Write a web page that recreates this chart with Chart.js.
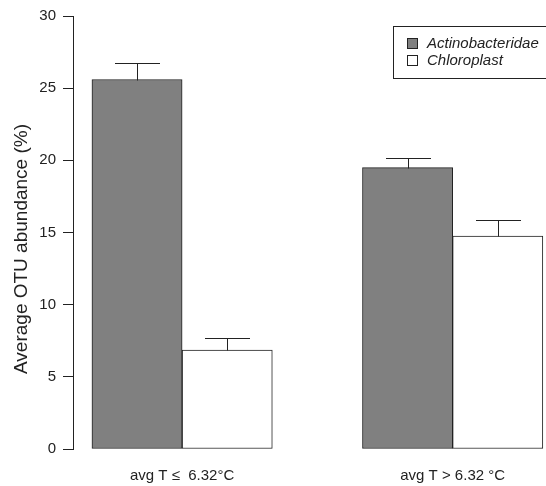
<!DOCTYPE html>
<html>
<head>
<meta charset="utf-8">
<script src="https://cdn.jsdelivr.net/npm/chart.js@4.4.1/dist/chart.umd.min.js"></script>
<style>
  html, body { margin: 0; padding: 0; background: #fff; overflow: hidden; }
  #wrap { width: 546px; height: 486px; position: relative; }
</style>
</head>
<body>
<div id="wrap"><canvas id="c" width="546" height="486"></canvas></div>
<script>
// Temperature groups
const categories = ['avg T \u2264  6.32\u00B0C', 'avg T > 6.32 \u00B0C'];
// Mean OTU abundance (%) per group, and standard error (upper whisker only)
const actinoMeans = [25.6, 19.5];
const actinoErrors = [1.13, 0.69];
const chloroMeans = [6.86, 14.76];
const chloroErrors = [0.81, 1.11];
// Y axis ticks
const yTicks = [0, 5, 10, 15, 20, 25, 30];
const yTitle = 'Average OTU abundance (%)';

const seriesNames = ['Actinobacteridae', 'Chloroplast'];
const seriesFills = ['#808080', '#ffffff'];
const edge = '#222222';
const FONT = '"Liberation Sans", Arial, sans-serif';

// barplot layout: two bars per group, one bar width of space before each group
const groupCenter = i => 2 + 3 * i;
const toPoints = (vals, side) => vals.map((v, i) => ({ x: groupCenter(i) + side * 0.5, y: v }));

const errorBars = {
  id: 'errorBars',
  afterDatasetsDraw(chart) {
    const { ctx, scales: { x, y } } = chart;
    const errs = [actinoErrors, chloroErrors];
    const capHalf = (x.getPixelForValue(0.25) - x.getPixelForValue(0));
    ctx.save();
    ctx.strokeStyle = edge;
    ctx.lineWidth = 1;
    chart.data.datasets.forEach((ds, di) => {
      const meta = chart.getDatasetMeta(di);
      meta.data.forEach((bar, i) => {
        const top = y.getPixelForValue(ds.data[i].y + errs[di][i]);
        const px = Math.round(bar.x) + 0.5;
        const base = Math.round(bar.y) + 0.5;
        const t = Math.round(top) + 0.5;
        ctx.beginPath();
        ctx.moveTo(px, base);
        ctx.lineTo(px, t);
        ctx.moveTo(Math.round(px - capHalf), t);
        ctx.lineTo(Math.round(px + capHalf), t);
        ctx.stroke();
      });
    });
    ctx.restore();
  }
};

// Y axis title, set in the left margin a little below the axis midpoint
const sideTitle = {
  id: 'sideTitle',
  afterDraw(chart) {
    const { ctx } = chart;
    ctx.save();
    ctx.translate(22, 249);
    ctx.rotate(-Math.PI / 2);
    ctx.font = '19px ' + FONT;
    ctx.fillStyle = '#222';
    ctx.textAlign = 'center';
    ctx.textBaseline = 'middle';
    ctx.fillText(yTitle, 0, 0);
    ctx.restore();
  }
};

const boxLegend = {
  id: 'boxLegend',
  afterDraw(chart) {
    const { ctx } = chart;
    ctx.save();
    ctx.strokeStyle = edge;
    ctx.lineWidth = 1;
    ctx.strokeRect(393.5, 26.5, 220, 52);
    ctx.font = 'italic 15px ' + FONT;
    ctx.textBaseline = 'middle';
    chart.data.datasets.forEach((ds, i) => {
      const cy = 44 + i * 17;
      ctx.fillStyle = ds.backgroundColor;
      ctx.fillRect(407.5, cy - 5.5, 10, 10);
      ctx.strokeRect(407.5, cy - 5.5, 10, 10);
      ctx.fillStyle = '#222';
      ctx.fillText(ds.label, 427, cy);
    });
    ctx.restore();
  }
};

new Chart(document.getElementById('c'), {
  type: 'bar',
  data: {
    datasets: [
      { label: seriesNames[0], data: toPoints(actinoMeans, -1), backgroundColor: seriesFills[0] },
      { label: seriesNames[1], data: toPoints(chloroMeans, 1), backgroundColor: seriesFills[1] }
    ]
  },
  options: {
    responsive: false,
    animation: false,
    devicePixelRatio: 1,
    layout: { padding: { left: 0, right: 0, top: 16, bottom: 0 } },
    datasets: {
      bar: {
        grouped: false,
        barPercentage: 1,
        categoryPercentage: 1,
        borderColor: edge,
        borderWidth: 1,
        borderSkipped: false
      }
    },
    plugins: {
      legend: { display: false },
      tooltip: { enabled: false }
    },
    scales: {
      x: {
        type: 'linear',
        offset: false,
        bounds: 'ticks',
        min: 0.79,
        max: 6.035,
        grid: { display: false, drawTicks: false },
        border: { display: false },
        afterBuildTicks(scale) {
          scale.ticks = categories.map((_, i) => ({ value: groupCenter(i) }));
        },
        afterFit(scale) { scale.height = 37; },
        ticks: {
          padding: 18,
          color: '#222',
          font: { family: FONT, size: 15 },
          maxRotation: 0,
          autoSkip: false,
          callback: (v, i) => categories[i]
        }
      },
      y: {
        min: 0,
        max: 30,
        afterBuildTicks(scale) {
          scale.ticks = yTicks.map(v => ({ value: v }));
        },
        afterFit(scale) { scale.width = 73; },
        grid: { drawOnChartArea: false, drawTicks: true, tickLength: 10, color: edge },
        border: { display: true, color: edge, width: 1 },
        ticks: {
          padding: 7,
          color: '#222',
          font: { family: FONT, size: 15 }
        }
      }
    }
  },
  plugins: [errorBars, sideTitle, boxLegend]
});
</script>
</body>
</html>
